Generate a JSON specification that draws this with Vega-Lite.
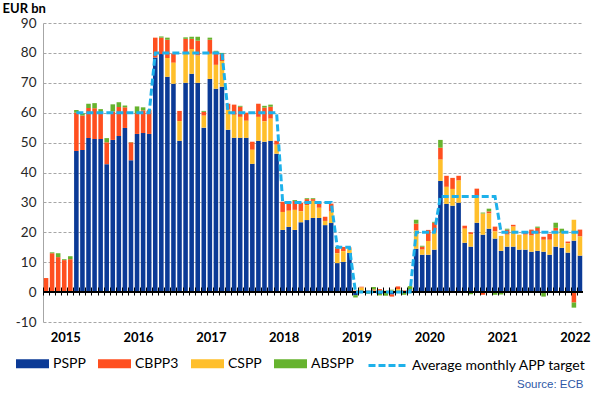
{
  "$schema": "https://vega.github.io/schema/vega-lite/v6.json",
  "width": 540,
  "height": 299,
  "autosize": {"type": "none"},
  "padding": {"left": 43, "top": 23, "right": 10, "bottom": 75},
  "config": {"view": {"stroke": null}, "font": "Lato"},
  "data": {"values": [
    {"m":"2014-10","PSPP":0,"CBPP3":4.7,"CSPP":0,"ABSPP":0,"target":null},
    {"m":"2014-11","PSPP":0,"CBPP3":13.0,"CSPP":0,"ABSPP":0.3,"target":null},
    {"m":"2014-12","PSPP":0,"CBPP3":11.7,"CSPP":0,"ABSPP":1.3,"target":null},
    {"m":"2015-01","PSPP":0,"CBPP3":10.7,"CSPP":0,"ABSPP":0.3,"target":null},
    {"m":"2015-02","PSPP":0,"CBPP3":11.0,"CSPP":0,"ABSPP":1.0,"target":null},
    {"m":"2015-03","PSPP":47.2,"CBPP3":12.8,"CSPP":0,"ABSPP":0.9,"target":60},
    {"m":"2015-04","PSPP":47.5,"CBPP3":11.6,"CSPP":0,"ABSPP":0.7,"target":60},
    {"m":"2015-05","PSPP":51.5,"CBPP3":10.1,"CSPP":0,"ABSPP":1.4,"target":60},
    {"m":"2015-06","PSPP":51.2,"CBPP3":10.3,"CSPP":0,"ABSPP":1.7,"target":60},
    {"m":"2015-07","PSPP":51.2,"CBPP3":8.8,"CSPP":0,"ABSPP":1.2,"target":60},
    {"m":"2015-08","PSPP":42.8,"CBPP3":7.3,"CSPP":0,"ABSPP":1.4,"target":60},
    {"m":"2015-09","PSPP":50.9,"CBPP3":9.5,"CSPP":0,"ABSPP":2.4,"target":60},
    {"m":"2015-10","PSPP":52.2,"CBPP3":9.7,"CSPP":0,"ABSPP":1.6,"target":60},
    {"m":"2015-11","PSPP":54.9,"CBPP3":6.9,"CSPP":0,"ABSPP":0.6,"target":60},
    {"m":"2015-12","PSPP":44.1,"CBPP3":6.0,"CSPP":0,"ABSPP":0.1,"target":60},
    {"m":"2016-01","PSPP":52.9,"CBPP3":6.9,"CSPP":0,"ABSPP":2.3,"target":60},
    {"m":"2016-02","PSPP":53.2,"CBPP3":7.6,"CSPP":0,"ABSPP":1.0,"target":60},
    {"m":"2016-03","PSPP":52.9,"CBPP3":7.9,"CSPP":0,"ABSPP":0.2,"target":60},
    {"m":"2016-04","PSPP":78.5,"CBPP3":6.6,"CSPP":0,"ABSPP":0,"target":80},
    {"m":"2016-05","PSPP":79.6,"CBPP3":5.5,"CSPP":0,"ABSPP":0.4,"target":80},
    {"m":"2016-06","PSPP":72.0,"CBPP3":6.1,"CSPP":6.3,"ABSPP":0.7,"target":80},
    {"m":"2016-07","PSPP":69.7,"CBPP3":3.1,"CSPP":7.0,"ABSPP":0,"target":80},
    {"m":"2016-08","PSPP":50.6,"CBPP3":3.4,"CSPP":6.6,"ABSPP":0,"target":80},
    {"m":"2016-09","PSPP":70.0,"CBPP3":4.7,"CSPP":10.0,"ABSPP":0.5,"target":80},
    {"m":"2016-10","PSPP":73.0,"CBPP3":3.4,"CSPP":8.3,"ABSPP":0.7,"target":80},
    {"m":"2016-11","PSPP":70.0,"CBPP3":5.0,"CSPP":9.1,"ABSPP":1.3,"target":80},
    {"m":"2016-12","PSPP":55.0,"CBPP3":1.3,"CSPP":4.0,"ABSPP":0.3,"target":80},
    {"m":"2017-01","PSPP":71.3,"CBPP3":4.7,"CSPP":8.4,"ABSPP":0.7,"target":80},
    {"m":"2017-02","PSPP":68.0,"CBPP3":4.4,"CSPP":8.0,"ABSPP":0.3,"target":80},
    {"m":"2017-03","PSPP":68.7,"CBPP3":2.3,"CSPP":8.6,"ABSPP":0.4,"target":80},
    {"m":"2017-04","PSPP":54.3,"CBPP3":2.0,"CSPP":6.7,"ABSPP":0,"target":60},
    {"m":"2017-05","PSPP":51.6,"CBPP3":3.4,"CSPP":7.7,"ABSPP":0,"target":60},
    {"m":"2017-06","PSPP":51.6,"CBPP3":3.4,"CSPP":7.0,"ABSPP":0.3,"target":60},
    {"m":"2017-07","PSPP":51.6,"CBPP3":2.7,"CSPP":5.7,"ABSPP":0,"target":60},
    {"m":"2017-08","PSPP":42.9,"CBPP3":2.7,"CSPP":4.7,"ABSPP":0,"target":60},
    {"m":"2017-09","PSPP":50.6,"CBPP3":4.4,"CSPP":8.0,"ABSPP":0,"target":60},
    {"m":"2017-10","PSPP":50.3,"CBPP3":4.6,"CSPP":6.8,"ABSPP":0.6,"target":60},
    {"m":"2017-11","PSPP":50.6,"CBPP3":4.0,"CSPP":7.4,"ABSPP":0.7,"target":60},
    {"m":"2017-12","PSPP":46.3,"CBPP3":1.3,"CSPP":3.0,"ABSPP":0,"target":60},
    {"m":"2018-01","PSPP":20.8,"CBPP3":3.4,"CSPP":6.0,"ABSPP":0,"target":30},
    {"m":"2018-02","PSPP":21.8,"CBPP3":3.0,"CSPP":5.4,"ABSPP":0,"target":30},
    {"m":"2018-03","PSPP":20.8,"CBPP3":3.0,"CSPP":6.7,"ABSPP":0.3,"target":30},
    {"m":"2018-04","PSPP":23.4,"CBPP3":2.9,"CSPP":3.6,"ABSPP":0,"target":30},
    {"m":"2018-05","PSPP":24.1,"CBPP3":2.0,"CSPP":5.0,"ABSPP":0.3,"target":30},
    {"m":"2018-06","PSPP":24.8,"CBPP3":0.6,"CSPP":5.7,"ABSPP":0.3,"target":30},
    {"m":"2018-07","PSPP":24.8,"CBPP3":1.7,"CSPP":3.4,"ABSPP":0,"target":30},
    {"m":"2018-08","PSPP":22.4,"CBPP3":1.4,"CSPP":1.4,"ABSPP":0,"target":30},
    {"m":"2018-09","PSPP":23.1,"CBPP3":2.7,"CSPP":3.8,"ABSPP":0,"target":30},
    {"m":"2018-10","PSPP":9.7,"CBPP3":1.7,"CSPP":3.3,"ABSPP":0.4,"target":15},
    {"m":"2018-11","PSPP":10.1,"CBPP3":1.4,"CSPP":3.6,"ABSPP":0,"target":15},
    {"m":"2018-12","PSPP":13.1,"CBPP3":0.3,"CSPP":1.5,"ABSPP":0,"target":15},
    {"m":"2019-01","PSPP":-1.0,"CBPP3":0.2,"CSPP":0.3,"ABSPP":-0.8,"target":0},
    {"m":"2019-02","PSPP":0.5,"CBPP3":0.3,"CSPP":1.0,"ABSPP":0,"target":0},
    {"m":"2019-03","PSPP":-0.4,"CBPP3":0.2,"CSPP":0.3,"ABSPP":-0.2,"target":0},
    {"m":"2019-04","PSPP":0.3,"CBPP3":0.4,"CSPP":0.2,"ABSPP":0.8,"target":0},
    {"m":"2019-05","PSPP":-0.6,"CBPP3":0.6,"CSPP":0.4,"ABSPP":-0.5,"target":0},
    {"m":"2019-06","PSPP":0.2,"CBPP3":-0.3,"CSPP":0.3,"ABSPP":-0.9,"target":0},
    {"m":"2019-07","PSPP":-0.8,"CBPP3":-0.7,"CSPP":0.6,"ABSPP":0.2,"target":0},
    {"m":"2019-08","PSPP":0.4,"CBPP3":0.9,"CSPP":0.6,"ABSPP":-0.2,"target":0},
    {"m":"2019-09","PSPP":-0.3,"CBPP3":0.2,"CSPP":0.4,"ABSPP":-0.6,"target":0},
    {"m":"2019-10","PSPP":0.2,"CBPP3":0.3,"CSPP":0.2,"ABSPP":1.3,"target":0},
    {"m":"2019-11","PSPP":14.5,"CBPP3":2.3,"CSPP":6.1,"ABSPP":1.3,"target":20},
    {"m":"2019-12","PSPP":12.5,"CBPP3":1.0,"CSPP":1.7,"ABSPP":0.3,"target":20},
    {"m":"2020-01","PSPP":12.5,"CBPP3":3.7,"CSPP":4.6,"ABSPP":0,"target":20},
    {"m":"2020-02","PSPP":14.2,"CBPP3":3.3,"CSPP":5.7,"ABSPP":0.3,"target":20},
    {"m":"2020-03","PSPP":37.2,"CBPP3":4.0,"CSPP":7.1,"ABSPP":2.6,"target":32},
    {"m":"2020-04","PSPP":29.5,"CBPP3":3.7,"CSPP":5.7,"ABSPP":0,"target":32},
    {"m":"2020-05","PSPP":28.9,"CBPP3":3.7,"CSPP":5.6,"ABSPP":0,"target":32},
    {"m":"2020-06","PSPP":29.9,"CBPP3":1.6,"CSPP":7.4,"ABSPP":0,"target":32},
    {"m":"2020-07","PSPP":16.5,"CBPP3":1.0,"CSPP":4.7,"ABSPP":0,"target":32},
    {"m":"2020-08","PSPP":15.2,"CBPP3":0.6,"CSPP":4.2,"ABSPP":-0.7,"target":32},
    {"m":"2020-09","PSPP":23.2,"CBPP3":2.7,"CSPP":8.7,"ABSPP":0,"target":32},
    {"m":"2020-10","PSPP":19.2,"CBPP3":-0.9,"CSPP":7.1,"ABSPP":0.3,"target":32},
    {"m":"2020-11","PSPP":21.2,"CBPP3":0.7,"CSPP":5.1,"ABSPP":0.9,"target":32},
    {"m":"2020-12","PSPP":17.9,"CBPP3":1.6,"CSPP":2.4,"ABSPP":-0.9,"target":32},
    {"m":"2021-01","PSPP":13.8,"CBPP3":0,"CSPP":5.0,"ABSPP":-0.8,"target":20},
    {"m":"2021-02","PSPP":15.2,"CBPP3":1.7,"CSPP":4.0,"ABSPP":0.3,"target":20},
    {"m":"2021-03","PSPP":15.2,"CBPP3":0.6,"CSPP":6.7,"ABSPP":0,"target":20},
    {"m":"2021-04","PSPP":14.2,"CBPP3":0,"CSPP":5.0,"ABSPP":0,"target":20},
    {"m":"2021-05","PSPP":14.2,"CBPP3":0.7,"CSPP":5.0,"ABSPP":0,"target":20},
    {"m":"2021-06","PSPP":13.5,"CBPP3":2.0,"CSPP":5.4,"ABSPP":0,"target":20},
    {"m":"2021-07","PSPP":13.8,"CBPP3":2.0,"CSPP":5.7,"ABSPP":0.4,"target":20},
    {"m":"2021-08","PSPP":13.5,"CBPP3":1.0,"CSPP":4.0,"ABSPP":-1.5,"target":20},
    {"m":"2021-09","PSPP":12.5,"CBPP3":2.0,"CSPP":5.0,"ABSPP":0,"target":20},
    {"m":"2021-10","PSPP":15.2,"CBPP3":1.0,"CSPP":5.3,"ABSPP":1.7,"target":20},
    {"m":"2021-11","PSPP":14.8,"CBPP3":0,"CSPP":5.1,"ABSPP":1.3,"target":20},
    {"m":"2021-12","PSPP":13.2,"CBPP3":0.6,"CSPP":3.1,"ABSPP":0,"target":20},
    {"m":"2022-01","PSPP":17.2,"CBPP3":-3.5,"CSPP":7.0,"ABSPP":-1.7,"target":20},
    {"m":"2022-02","PSPP":12.2,"CBPP3":2.3,"CSPP":6.4,"ABSPP":0,"target":20}
  ]},
  "layer": [
    {
      "transform": [{"fold": ["PSPP", "CBPP3", "CSPP", "ABSPP"], "as": ["series", "value"]}],
      "mark": {"type": "bar"},
      "encoding": {
        "x": {
          "field": "m", "type": "ordinal",
          "scale": {"paddingInner": 0.25, "paddingOuter": 0.125},
          "axis": {
            "title": "Source: ECB", "titleX": 540, "titleY": 97, "titleAlign": "right", "titleAnchor": null, "titleBaseline": "middle",
            "titleFont": "Liberation Sans", "titleFontSize": 11.5, "titleFontWeight": "normal", "titleColor": "#2E58A6",
            "orient": "bottom", "offset": -35, "zindex": 1,
            "domain": false, "ticks": true, "bandPosition": 0, "tickOffset": -0.8, "tickSize": 8, "tickColor": "#000000", "tickWidth": 1,
            "labelPadding": 36, "labelOffset": 1.8, "labelAngle": 0, "labelOverlap": false,
            "labelExpr": "datum.label && indexof(datum.label, '-01') == 4 ? substring(datum.label, 0, 4) : ''",
            "labelFontSize": 13, "labelFontWeight": "bold", "labelColor": "#000000", "labelFont": "Lato"
          }
        },
        "y": {
          "field": "value", "type": "quantitative", "stack": "zero",
          "scale": {"domain": [-10, 90], "nice": false, "zero": false},
          "axis": {
            "title": "EUR bn", "titleAngle": 0, "titleX": -41, "titleY": -15, "titleAlign": "left", "titleBaseline": "middle",
            "titleFontWeight": "bold", "titleFontSize": 13, "titleColor": "#000000", "titleFont": "Lato",
            "values": [-10, 0, 10, 20, 30, 40, 50, 60, 70, 80, 90], "tickCount": 11, "labelOverlap": false,
            "labelExpr": "'' + datum.value",
            "domain": true, "domainColor": "#A6A6A6", "domainWidth": 1,
            "ticks": false, "labelPadding": 7, "labelFontSize": 13.5, "labelColor": "#262626", "labelFont": "Lato",
            "grid": true, "gridColor": "#A6A6A6", "gridDash": [3, 2], "gridWidth": 1
          }
        },
        "color": {
          "field": "series", "type": "nominal",
          "sort": ["PSPP", "CBPP3", "CSPP", "ABSPP"],
          "scale": {"domain": ["PSPP", "CBPP3", "CSPP", "ABSPP"], "range": ["#0B3A96", "#FF4F1F", "#FFBF2B", "#66B32E"]},
          "legend": {
            "orient": "none", "legendX": -27, "legendY": 324, "direction": "horizontal", "title": null,
            "symbolType": "M-1,-0.27H1V0.27H-1Z", "symbolSize": 1089, "symbolStrokeWidth": 0,
            "labelFontSize": 14, "labelFont": "Lato", "labelColor": "#000000", "labelOffset": 4, "columnPadding": 12
          }
        }
      }
    },
    {
      "mark": {"type": "rule", "color": "#000000", "strokeWidth": 1.5},
      "encoding": {"y": {"datum": 0, "type": "quantitative"}}
    },
    {
      "transform": [{"filter": "isValid(datum.target)"}],
      "mark": {"type": "line", "color": "#1EB1EA", "strokeWidth": 3},
      "encoding": {
        "x": {"field": "m", "type": "ordinal"},
        "y": {"field": "target", "type": "quantitative"},
        "strokeDash": {
          "datum": "Average monthly APP target", "type": "nominal",
          "scale": {"range": [[7, 3]]},
          "legend": {
            "orient": "none", "legendX": 324, "legendY": 322, "title": null,
            "symbolType": "stroke", "symbolSize": 1444, "symbolStrokeColor": "#1EB1EA", "symbolStrokeWidth": 3, "symbolDash": [6, 3],
            "labelFontSize": 14, "labelFont": "Lato", "labelColor": "#000000", "labelOffset": 4, "labelLimit": 300
          }
        }
      }
    }
  ]
}
